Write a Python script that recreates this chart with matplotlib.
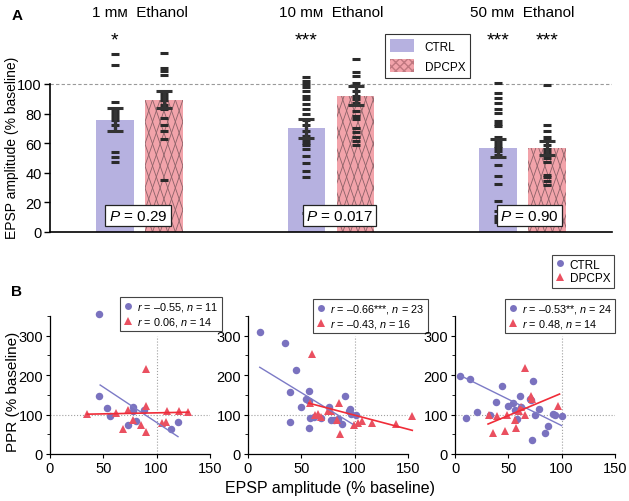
import matplotlib
matplotlib.use('Agg')
import matplotlib.pyplot as plt
import numpy as np
from matplotlib.patches import Patch
from matplotlib.lines import Line2D

plt.rcParams['font.family'] = ['Liberation Sans', 'DejaVu Sans']
plt.rcParams['mathtext.fontset'] = 'custom'
plt.rcParams['mathtext.it'] = 'Liberation Sans:italic'
plt.rcParams['mathtext.rm'] = 'Liberation Sans'

# ---------------- data: panel A ----------------
groups = ['1 m\u1d0d  Ethanol', '10 m\u1d0d  Ethanol', '50 m\u1d0d  Ethanol']
ctrl_mean = [76, 70, 57]
ctrl_sem = [7.5, 6.5, 6]
dpcpx_mean = [89.5, 92, 56.5]
dpcpx_sem = [5.5, 6.5, 4.8]
ctrl_pts_1 = [120, 113, 88, 82, 80, 78, 76, 72, 54, 51, 47]
dpcpx_pts_1 = [121, 111, 109, 106, 93, 91, 89, 86, 83, 77, 72, 68, 63, 35]
ctrl_pts_10 = [104.5, 102, 100, 98, 95.5, 92, 90, 86.5, 83, 79.5, 76, 72, 68, 65,
               62, 60, 59, 56, 51.5, 46.5, 41.5, 37, 13]
dpcpx_pts_10 = [117, 108, 105.5, 101, 95, 92, 90, 87.5, 82, 78.5, 76.5, 70, 67.5,
                64.5, 61.5, 59]
ctrl_pts_50 = [101, 94, 90.5, 87, 83, 80.5, 75, 73, 71.5, 64, 62, 60, 58, 57, 55, 52,
               45, 38, 32.5, 21, 14.5, 11, 8.5, 6.5]
dpcpx_pts_50 = [99, 72, 68, 64.5, 62, 59, 56, 54, 50, 47, 38.5, 37, 34.5, 31.5]
ctrl_pts = [ctrl_pts_1, ctrl_pts_10, ctrl_pts_50]
dpcpx_pts = [dpcpx_pts_1, dpcpx_pts_10, dpcpx_pts_50]
p_values = ['0.29', '0.017', '0.90']
ctrl_stars = ['*', '***', '***']
dpcpx_stars = ['', '', '***']

# ---------------- data: panel B ----------------
ctrl_x_1 = [46, 46, 53, 56, 73, 78, 78, 81, 88, 113, 120]
ctrl_y_1 = [355, 147, 116, 96, 74, 120, 108, 84, 112, 63, 80]
dpcpx_x_1 = [35, 62, 73, 77.5, 90, 90, 85, 68, 110, 121, 129, 105, 109, 90]
dpcpx_y_1 = [102, 105, 111, 87, 123, 55, 74, 63, 108, 110, 107, 79, 80, 216]
ctrl_fit_x_1 = [47, 120]
ctrl_fit_y_1 = [175, 44]
dpcpx_fit_x_1 = [35, 130]
dpcpx_fit_y_1 = [101, 106]

ctrl_x_2 = [11, 35, 45, 39, 57, 54, 57, 50, 91, 76, 96, 95, 97, 101, 39, 58.5, 68,
            78, 81, 88, 57, 84, 62]
ctrl_y_2 = [309, 282, 213, 157, 161, 140, 135, 120, 146, 120, 114, 108, 102, 99, 82,
            91, 91, 85, 86, 76, 66, 88, 95]
dpcpx_x_2 = [60, 85, 58, 63, 66, 68, 75, 78, 83, 86, 99, 103, 107, 116, 139, 154]
dpcpx_y_2 = [254, 129, 129, 100, 102, 95, 108, 108, 87, 51, 74, 78, 83, 79, 76, 97]
ctrl_fit_x_2 = [11, 98]
ctrl_fit_y_2 = [220, 76]
dpcpx_fit_x_2 = [57, 154]
dpcpx_fit_y_2 = [129, 60]

ctrl_x_3 = [5, 14, 10, 20.5, 32.5, 38, 44, 50, 54, 56, 58, 61, 70, 71, 73, 75, 79,
            72.5, 84, 87, 92, 94, 100, 62]
ctrl_y_3 = [197, 190, 91, 106, 100, 131, 173, 121, 129, 112, 89, 148, 140, 137, 185,
            99, 114, 36, 53, 72, 102, 99, 96, 118]
dpcpx_x_3 = [31.5, 36, 39, 47, 49, 56, 57, 60, 61.5, 66, 66, 71, 72, 97]
dpcpx_y_3 = [99, 53, 96, 59, 99, 85, 65, 110, 118, 218, 99, 148, 140, 123]
ctrl_fit_x_3 = [5, 100]
ctrl_fit_y_3 = [199, 72]
dpcpx_fit_x_3 = [31, 98]
dpcpx_fit_y_3 = [76, 152]

ctrl_legend = ['$\\it{r}$ = \u20130.55, $\\it{n}$ = 11',
               '$\\it{r}$ = \u20130.66***, $\\it{n}$ = 23',
               '$\\it{r}$ = \u20130.53**, $\\it{n}$ = 24']
dpcpx_legend = ['$\\it{r}$ = 0.06, $\\it{n}$ = 14',
                '$\\it{r}$ = \u20130.43, $\\it{n}$ = 16',
                '$\\it{r}$ = 0.48, $\\it{n}$ = 14']

# ---------------- style ----------------
CTRL_BAR = '#b6b1e0'
DP_BAR = '#f2a3aa'
HATCH_C = '#8c6268'
CTRL_PT = '#7a72bf'
DP_PT = '#ea5060'
CTRL_LINE = '#7c7ac6'
DP_LINE = '#f02c38'
DARK = '#2a2a2a'

W, H = 629, 502
fig = plt.figure(figsize=(W / 100, H / 100), dpi=100)


def fx(px):
    return px / W


def fy(py):
    return 1 - py / H


# ================= Panel A =================
axA = fig.add_axes([fx(50), fy(233), (612 - 50) / W, (233 - 48) / H])
axA.set_xlim(-0.467, 2.467)
axA.set_ylim(0, 125)
g = np.arange(len(groups))
off = 0.128
bw = 0.198

ctrl_bars = axA.bar(g - off, ctrl_mean, width=bw, color=CTRL_BAR, lw=0, zorder=1)
dp_bars = axA.bar(g + off, dpcpx_mean, width=bw, color=DP_BAR, lw=0, zorder=1)

# elongated diamond hatch on DPCPX bars (decoration clipped to the bars)
sx = 191.5  # px per x unit
sy = 1.48   # px per y unit
slope = 2.9
spacing = 7.6
for rect in dp_bars:
    x0 = rect.get_x()
    wdt = rect.get_width()
    hgt = rect.get_height()
    h_px = hgt * sy
    w_px = wdt * sx
    dx_px = h_px / slope
    cs = np.arange(-dx_px - spacing, w_px + dx_px + spacing, spacing)
    for c in cs:
        for sgn in (1, -1):
            xa = x0 + c / sx
            xb = x0 + (c + sgn * dx_px) / sx
            ln, = axA.plot([xa, xb], [0, hgt], color=HATCH_C, lw=0.6, zorder=2)
            ln.set_clip_path(rect)

axA.axhline(100, color='#9a9a9a', ls=(0, (3, 2)), lw=0.8, zorder=0)

for i in range(len(groups)):
    axA.plot(np.full(len(ctrl_pts[i]), g[i] - off), ctrl_pts[i], ls='none', marker='_',
             ms=6, mew=2.2, color=DARK, zorder=4, clip_on=False)
    axA.plot(np.full(len(dpcpx_pts[i]), g[i] + off), dpcpx_pts[i], ls='none', marker='_',
             ms=6, mew=2.2, color=DARK, zorder=4, clip_on=False)
axA.errorbar(g - off, ctrl_mean, yerr=ctrl_sem, fmt='none', ecolor='#333333',
             elinewidth=2.4, capsize=5.5, capthick=2.2, zorder=5)
axA.errorbar(g + off, dpcpx_mean, yerr=dpcpx_sem, fmt='none', ecolor='#333333',
             elinewidth=2.4, capsize=5.5, capthick=2.2, zorder=5)

p_dx = [-0.008, 0.044, 0.037]
for i in range(len(groups)):
    axA.text(g[i] + p_dx[i], 11, '$\\it{P}$ = ' + p_values[i], ha='center', va='center',
             fontsize=11, zorder=6,
             bbox=dict(boxstyle='square,pad=0.22', fc='white', ec='#222222', lw=0.9))
    axA.text(g[i], 148.5, groups[i], ha='center', va='center', fontsize=11, clip_on=False)
    axA.text(g[i] - off, 130, ctrl_stars[i], ha='center', va='center', fontsize=14,
             clip_on=False)
    if dpcpx_stars[i]:
        axA.text(g[i] + off, 130, dpcpx_stars[i], ha='center', va='center', fontsize=14,
                 clip_on=False)

for s in ['top', 'right']:
    axA.spines[s].set_visible(False)
axA.spines['left'].set_bounds(0, 100)
axA.spines['left'].set_linewidth(1.2)
axA.spines['bottom'].set_linewidth(1.2)
axA.set_xticks([])
axA.set_yticks(np.arange(0, 101, 20))
axA.tick_params(axis='y', labelsize=10.5, length=4, width=1.0, pad=2)

legA = axA.legend(handles=[Patch(fc=CTRL_BAR, lw=0, label='CTRL'),
                           Patch(fc=DP_BAR, hatch='xxxx', ec='#c07880', lw=0, label='DPCPX')],
                  loc='upper left', bbox_to_anchor=(fx(385), fy(35)),
                  bbox_transform=fig.transFigure, borderaxespad=0, fancybox=False,
                  edgecolor='#333333', framealpha=1, fontsize=8.5, handlelength=2.0,
                  handleheight=1.3, labelspacing=0.55, borderpad=0.45, handletextpad=0.9)
legA.get_frame().set_linewidth(0.8)

fig.text(fx(17), fy(16), 'A', fontsize=11, fontweight='bold', ha='center', va='center')
fig.text(fx(12), fy(148), 'EPSP amplitude (% baseline)', rotation=90, ha='center',
         va='center', fontsize=10)

# ================= Panel B =================
panels = [
    (50, ctrl_x_1, ctrl_y_1, dpcpx_x_1, dpcpx_y_1, ctrl_fit_x_1, ctrl_fit_y_1,
     dpcpx_fit_x_1, dpcpx_fit_y_1, (120, 298)),
    (248, ctrl_x_2, ctrl_y_2, dpcpx_x_2, dpcpx_y_2, ctrl_fit_x_2, ctrl_fit_y_2,
     dpcpx_fit_x_2, dpcpx_fit_y_2, (313, 300)),
    (455, ctrl_x_3, ctrl_y_3, dpcpx_x_3, dpcpx_y_3, ctrl_fit_x_3, ctrl_fit_y_3,
     dpcpx_fit_x_3, dpcpx_fit_y_3, (505, 300)),
]
for k, (left, cx, cy, dx, dy, cfx, cfy, dfx, dfy, lpos) in enumerate(panels):
    ax = fig.add_axes([fx(left), fy(455), 160 / W, 138 / H])
    ax.set_xlim(0, 150)
    ax.set_ylim(0, 350)
    ax.plot([100, 100], [0, 300], color='#a0a0a0', ls=':', lw=0.8, zorder=0)
    ax.plot([0, 150], [100, 100], color='#a0a0a0', ls=':', lw=0.8, zorder=0)
    ax.plot(cx, cy, ls='none', marker='o', ms=5.4, color=CTRL_PT, mew=0, zorder=3,
            clip_on=False)
    ax.plot(dx, dy, ls='none', marker='^', ms=5.7, color=DP_PT, mew=0, zorder=3,
            clip_on=False)
    ax.plot(cfx, cfy, color=CTRL_LINE, lw=1.0, zorder=4, clip_on=False)
    ax.plot(dfx, dfy, color=DP_LINE, lw=1.2, zorder=4, clip_on=False)
    for s in ['top', 'right']:
        ax.spines[s].set_visible(False)
    ax.spines['left'].set_linewidth(0.9)
    ax.spines['bottom'].set_linewidth(0.9)
    ax.set_xticks([0, 50, 100, 150])
    ax.set_yticks([0, 100, 200, 300])
    ax.set_yticks([50, 150, 250, 350], minor=True)
    ax.tick_params(axis='both', labelsize=10.5, length=3, width=0.8, pad=2)
    ax.tick_params(axis='y', which='minor', length=2, width=0.6)
    leg = ax.legend(handles=[Line2D([], [], ls='none', marker='o', ms=5, color=CTRL_PT,
                                    mew=0, label=ctrl_legend[k]),
                             Line2D([], [], ls='none', marker='^', ms=5.5, color=DP_PT,
                                    mew=0, label=dpcpx_legend[k])],
                    loc='upper left', bbox_to_anchor=(fx(lpos[0]), fy(lpos[1])),
                    bbox_transform=fig.transFigure, borderaxespad=0, fancybox=False,
                    edgecolor='#444444', framealpha=1, fontsize=7.8, handlelength=0.8,
                    handletextpad=0.5, labelspacing=0.15, borderpad=0.3)
    leg.get_frame().set_linewidth(0.8)
    if k == 2:
        leg2 = fig.legend(handles=[Line2D([], [], ls='none', marker='o', ms=5,
                                          color=CTRL_PT, mew=0, label='CTRL'),
                                   Line2D([], [], ls='none', marker='^', ms=5.5,
                                          color=DP_PT, mew=0, label='DPCPX')],
                          loc='upper right', bbox_to_anchor=(fx(614), fy(256)),
                          bbox_transform=fig.transFigure, borderaxespad=0, fancybox=False,
                          edgecolor='#444444', framealpha=1, fontsize=8.5,
                          handlelength=0.8, handletextpad=0.4, labelspacing=0.15,
                          borderpad=0.3)
        leg2.get_frame().set_linewidth(0.8)

fig.text(fx(17), fy(292), 'B', fontsize=11, fontweight='bold', ha='center', va='center')
fig.text(fx(13), fy(392), 'PPR (% baseline)', rotation=90, ha='center', va='center',
         fontsize=11)
fig.text(fx(330), fy(489), 'EPSP amplitude (% baseline)', ha='center', va='center',
         fontsize=11.5)

fig.savefig('out.png', dpi=100)
